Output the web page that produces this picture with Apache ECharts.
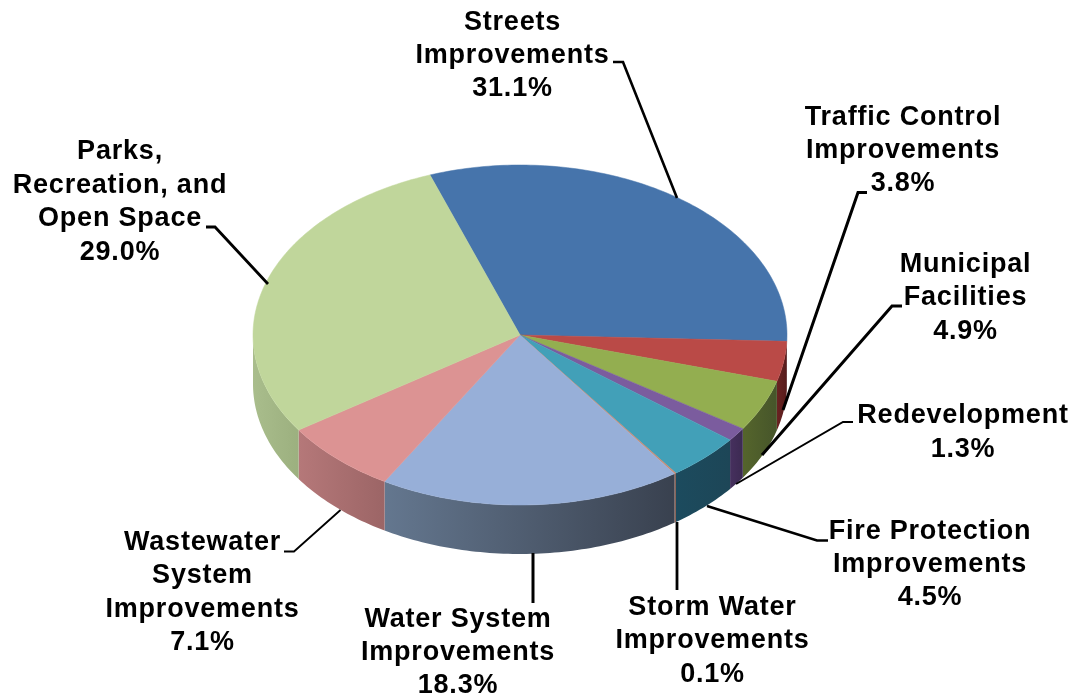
<!DOCTYPE html>
<html><head><meta charset="utf-8">
<style>html,body{margin:0;padding:0;background:#fff}#c{width:1071px;height:698px}</style>
<script src="https://cdn.jsdelivr.net/npm/echarts@6/dist/echarts.min.js"></script>
</head><body><div id="c"></div>
<script>
const categories = ['Streets\nImprovements','Traffic Control\nImprovements','Municipal\nFacilities','Redevelopment','Fire Protection\nImprovements','Storm Water\nImprovements','Water System\nImprovements','Wastewater\nSystem\nImprovements','Parks,\nRecreation, and\nOpen Space'];
const shares = [31.1,3.8,4.9,1.3,4.5,0.1,18.3,7.1,29.0];

// styling and layout, separate from the values
const topColors = ['#4674ab','#ba4a47','#93ae50','#7b5c9e','#42a0b8','#c98a70','#97afd8','#dc9393','#c0d69b'];
const wallColors = [['#2c4a70','#2c4a70'],['#6a2322','#561b1b'],['#55652c','#46552a'],['#46305e','#3c2a52'],['#1c4b5e','#1d4657'],['#7a4a3c','#7a4a3c'],['#64778f','#39414f'],['#b57879','#9c6566'],['#a9bd8c','#9cb07f']];
const labelPos = [[512.5,55.5],[903,150.5],[965.5,298],[963,432.5],[930,564.5],[712.5,641],[458,652.5],[202.5,592.5],[120,202]];
const leaders = [
 [[613,62],[623,62],[677,198]],
 [[867,192.5],[858,192.5],[783,410]],
 [[902,306],[892,306],[762,455]],
 [[853,422],[843,422],[736,484]],
 [[828,540.5],[817,540.5],[707,506]],
 [[677,590],[677,522]],
 [[533,603],[533,553]],
 [[284,551.5],[294,551.5],[340.5,510]],
 [[206,227],[215,227],[268,284]]
];
const leaderWidths = [2.6,3,3,2,2.6,2.8,3,1.8,2.8];
const pie = {cx:520, cy:335, rx:267, ry:170, depth:49, start:-19.7};

// the reference's labels are tracked slightly wider than the font's default
const origGetContext = HTMLCanvasElement.prototype.getContext;
HTMLCanvasElement.prototype.getContext = function(...args){
 const ctx = origGetContext.apply(this,args);
 if(args[0]==='2d' && ctx) ctx.letterSpacing='0.8px';
 return ctx;
};

function pt(deg, dy){const r=deg*Math.PI/180;return [pie.cx+pie.rx*Math.sin(r), pie.cy-pie.ry*Math.cos(r)+(dy||0)];}
function arc(a,b,dy){const n=Math.max(2,Math.ceil(Math.abs(b-a)/1));const p=[];for(let i=0;i<=n;i++)p.push(pt(a+(b-a)*i/n,dy));return p;}

const chart = echarts.init(document.getElementById('c'),null,{renderer:'canvas'});
const total = shares.reduce((a,b)=>a+b,0);
chart.setOption({
 animation:false,
 backgroundColor:'#fff',
 series:[{
  type:'custom',
  coordinateSystem:'none',
  data:shares.map((v,i)=>({name:categories[i],value:v})),
  renderItem(params,api){
   const i=params.dataIndex;
   const before=shares.slice(0,i).reduce((a,b)=>a+b,0);
   const a=pie.start+before/total*360, b=a+api.value(0)/total*360;
   const children=[];
   const wa=Math.max(a,90), wb=Math.min(b,270);
   if(wb>wa){
    const top=arc(wa,wb,0), bot=arc(wb,wa,pie.depth);
    children.push({type:'polygon',shape:{points:top.concat(bot)},
     style:{fill:new echarts.graphic.LinearGradient(0,0,1,0,[{offset:0,color:wallColors[i][0]},{offset:1,color:wallColors[i][1]}]),stroke:null}});
   }
   children.push({type:'polygon',shape:{points:[[pie.cx,pie.cy]].concat(arc(a,b,0))},
     style:{fill:topColors[i],stroke:topColors[i],lineWidth:0.5}});
   return {type:'group',children};
  },
  z:2
 },{
  type:'custom',
  coordinateSystem:'none',
  data:shares.map((v,i)=>({name:categories[i],value:v})),
  renderItem(params,api){
   const i=params.dataIndex;
   return {type:'group',children:[
    {type:'polyline',shape:{points:leaders[i]},style:{stroke:'#000',lineWidth:leaderWidths[i],fill:null}},
    {type:'text',x:labelPos[i][0],y:labelPos[i][1],
     style:{text:categories[i]+'\n'+api.value(0).toFixed(1)+'%',align:'center',verticalAlign:'middle',
      font:'bold 27px "Liberation Sans", Arial, sans-serif',lineHeight:33.4,fill:'#000'}}
   ]};
  },
  z:3
 }]
});
</script></body></html>
